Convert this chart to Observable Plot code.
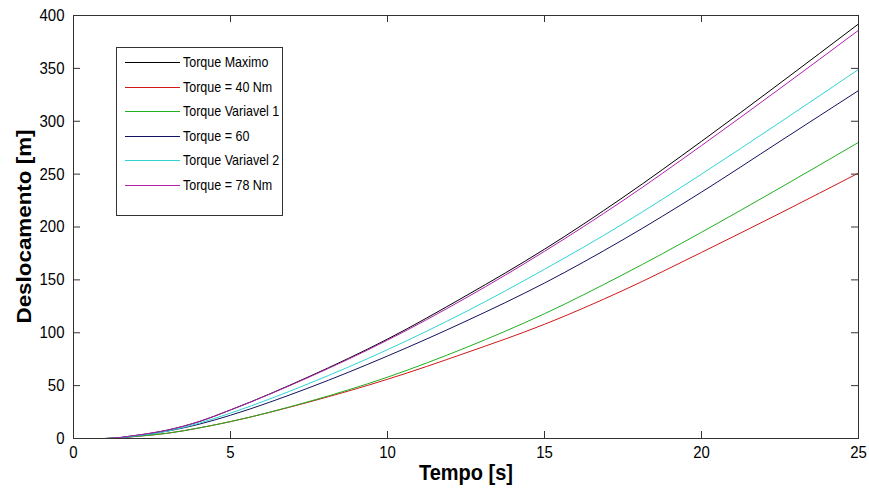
<!DOCTYPE html>
<html>
<head>
<meta charset="utf-8">
<script src="https://cdn.jsdelivr.net/npm/d3@7"></script>
<script src="https://cdn.jsdelivr.net/npm/@observablehq/plot@0.6"></script>
<style>
  html, body { margin: 0; padding: 0; background: #fff; }
  #chart svg { display: block; }
</style>
</head>
<body>
<div id="chart"></div>
<script>
// ---- data ----
const tempo = [0, 1, 2, 3, 4, 5, 7.5, 10, 12.5, 15, 17.5, 20, 22.5, 25];
const torqueMaximo    = [0, 0, 3, 8, 16, 27, 58.5, 94, 135, 179, 228, 281, 336, 392];
const torque40        = [0, 0, 2, 5, 10, 16, 34.5, 56, 81, 108, 140, 176, 213, 251];
const torqueVariavel1 = [0, 0, 2, 5, 10, 16, 35, 58, 86, 118, 155, 195, 237, 280];
const torque60        = [0, 0, 2.5, 7, 13.5, 22, 48, 78, 111, 147, 188, 233, 281, 329];
const torqueVariavel2 = [0, 0, 2.5, 7, 14.5, 24, 52, 84, 120, 160, 203, 250, 299, 349];
const torque78        = [0, 0, 3, 8, 16, 27, 58, 93, 133, 177, 225, 277, 331, 386];

const seriesNames  = ["Torque Maximo", "Torque = 40 Nm", "Torque Variavel 1", "Torque = 60", "Torque Variavel 2", "Torque = 78 Nm"];
const seriesValues = [torqueMaximo, torque40, torqueVariavel1, torque60, torqueVariavel2, torque78];
const seriesColors = ["#000000", "#d01818", "#1fb01f", "#12125e", "#2fd4d4", "#b020b0"];

const xTicks = [0, 5, 10, 15, 20, 25];
const yTicks = [0, 50, 100, 150, 200, 250, 300, 350, 400];
const xLabel = "Tempo [s]";
const yLabel = "Deslocamento [m]";

// ---- layout ----
const W = 869, H = 493;
const mL = 73, mR = 11, mT = 15, mB = 55;
const innerW = W - mL - mR, innerH = H - mT - mB;
const tickLen = 7;
const FONT = "'Liberation Sans', Arial, Helvetica, sans-serif";

const rows = [];
seriesNames.forEach((name, i) => {
  tempo.forEach((t, j) => rows.push({serie: name, t, d: seriesValues[i][j]}));
});

// legend as a custom mark (pixel layout only)
function legendMark() {
  return () => {
    const g = d3.create("svg:g");
    const bx = 116, by = 47, bw = 166, bh = 168;
    g.append("rect").attr("x", bx + 0.5).attr("y", by + 0.5).attr("width", bw).attr("height", bh)
      .attr("fill", "#fff").attr("stroke", "#333").attr("stroke-width", 1);
    seriesNames.forEach((name, i) => {
      const y = Math.round(by + 15 + i * 24.6) + 0.5;
      g.append("line").attr("x1", bx + 9).attr("x2", bx + 64).attr("y1", y).attr("y2", y)
        .attr("stroke", seriesColors[i]).attr("stroke-width", 1);
      g.append("text").attr("x", bx + 67).attr("y", y).attr("dy", "0.36em")
        .attr("text-anchor", "start")
        .attr("font-family", FONT).attr("font-size", 12.5).attr("fill", "#000").text(name);
    });
    return g.node();
  };
}

// rotated y-axis title, centred on the frame
function yTitleMark() {
  return (index, scales, values, dims) => {
    const cy = dims.marginTop + (dims.height - dims.marginTop - dims.marginBottom) / 2;
    const g = d3.create("svg:g");
    g.append("text")
      .attr("transform", `translate(${dims.marginLeft - 49},${cy}) rotate(-90)`)
      .attr("text-anchor", "middle").attr("dy", "0.36em")
      .attr("font-family", FONT).attr("font-size", 20).attr("font-weight", "bold")
      .attr("fill", "#000").text(yLabel);
    return g.node();
  };
}

const chart = Plot.plot({
  width: W, height: H,
  marginLeft: mL, marginRight: mR, marginTop: mT, marginBottom: mB,
  style: {fontFamily: FONT, fontSize: "15px", color: "#000", background: "#fff"},
  x: {domain: [0, 25], axis: null},
  y: {domain: [0, 400], axis: null},
  color: {domain: seriesNames, range: seriesColors},
  marks: [
    Plot.line(rows, {x: "t", y: "d", z: "serie", stroke: "serie", strokeWidth: 1, curve: "monotone-x"}),
    Plot.frame({stroke: "#333", strokeWidth: 1}),
    // inward ticks on all four sides
    Plot.tickX(xTicks, {x: d => d, insetTop: innerH - tickLen, stroke: "#333"}),
    Plot.tickX(xTicks, {x: d => d, insetBottom: innerH - tickLen, stroke: "#333"}),
    Plot.tickY(yTicks, {y: d => d, insetRight: innerW - tickLen, stroke: "#333"}),
    Plot.tickY(yTicks, {y: d => d, insetLeft: innerW - tickLen, stroke: "#333"}),
    Plot.axisX(xTicks, {anchor: "bottom", tickSize: 0, tickPadding: 8, label: null, fontSize: 15, fill: "#000"}),
    Plot.axisY(yTicks, {anchor: "left", tickSize: 0, tickPadding: 9, label: null, fontSize: 15, fill: "#000"}),
    Plot.text([xLabel], {frameAnchor: "bottom", dy: 34, fontWeight: "bold", fontSize: 20, lineAnchor: "middle", fill: "#000"}),
    yTitleMark(),
    legendMark()
  ]
});

document.getElementById("chart").appendChild(chart);

// the reference image is slightly stretched vertically: stretch text the same way,
// around each text's own centre
const K = 1.12;
const NS = "http://www.w3.org/2000/svg";
const sr = chart.getBoundingClientRect();
Array.from(chart.querySelectorAll("text")).forEach(t => {
  const r = t.getBoundingClientRect();
  const cx = (r.left + r.right) / 2 - sr.left;
  const cy = (r.top + r.bottom) / 2 - sr.top;
  const pm = t.parentNode.getCTM();
  let p = new DOMPoint(cx, cy);
  if (pm) p = p.matrixTransform(pm.inverse());
  const g = document.createElementNS(NS, "g");
  g.setAttribute("transform", `translate(${p.x},${p.y}) scale(1,${K}) translate(${-p.x},${-p.y})`);
  t.parentNode.insertBefore(g, t);
  g.appendChild(t);
});
</script>
</body>
</html>
